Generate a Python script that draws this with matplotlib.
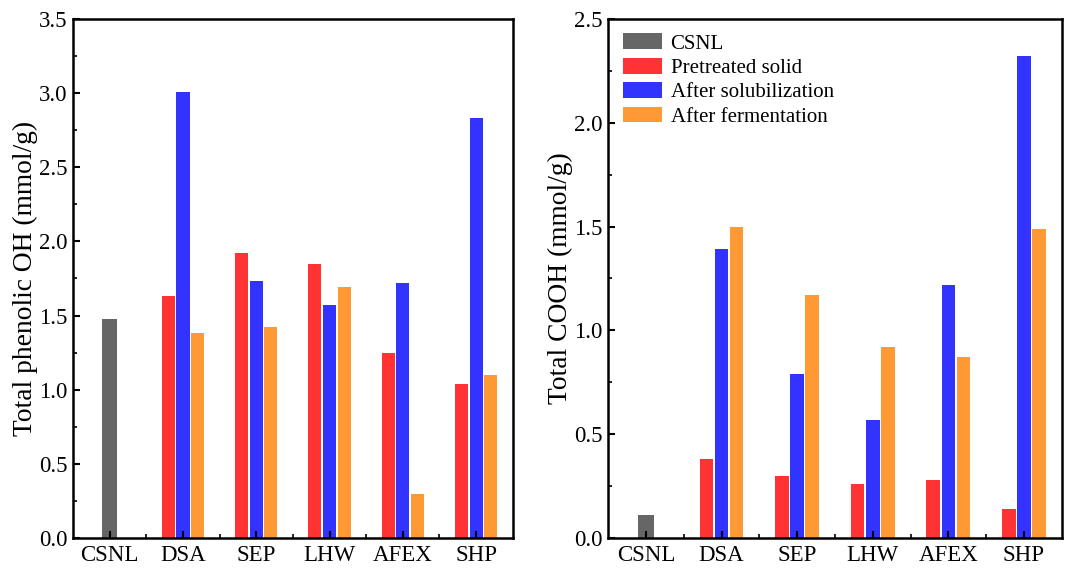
import numpy as np
import matplotlib.pyplot as plt
from matplotlib.ticker import MultipleLocator, FixedLocator

plt.rcParams['font.family'] = ['Liberation Serif', 'DejaVu Serif']

groups = ['CSNL', 'DSA', 'SEP', 'LHW', 'AFEX', 'SHP']
series = ['Pretreated solid', 'After solubilization', 'After fermentation']
colors = ['#FF3333', '#3333FF', '#FF9933']
gray = '#666666'

# raw lignin (CSNL) only has a single value
csnl_oh = 1.48
csnl_cooh = 0.11

# DSA, SEP, LHW, AFEX, SHP
oh_pretreated = [1.63, 1.92, 1.85, 1.25, 1.04]
oh_solubilized = [3.01, 1.73, 1.57, 1.72, 2.83]
oh_fermented = [1.38, 1.42, 1.69, 0.30, 1.10]

cooh_pretreated = [0.38, 0.30, 0.26, 0.28, 0.14]
cooh_solubilized = [1.39, 0.79, 0.57, 1.22, 2.32]
cooh_fermented = [1.50, 1.17, 0.92, 0.87, 1.49]

fig = plt.figure(figsize=(10.65, 5.7), dpi=100)
ax1 = fig.add_axes([0.0685, 0.056, 0.413, 0.911])
ax2 = fig.add_axes([0.571, 0.056, 0.426, 0.911])

w = 0.18
off = 0.2
x = np.arange(1, len(groups))


def draw(ax, csnl, vals, ymax, ylabel):
    ax.bar(0, csnl, 0.21, color=gray, label='CSNL')
    for i, (v, c, s) in enumerate(zip(vals, colors, series)):
        ax.bar(x + (i - 1) * off, v, w, color=c, label=s)
    ax.set_xlim(-0.5, len(groups) - 0.5)
    ax.set_ylim(0, ymax)
    ax.set_xticks(range(len(groups)))
    ax.set_xticklabels(groups)
    ax.xaxis.set_minor_locator(FixedLocator(np.arange(0.5, len(groups) - 0.5, 1)))
    ax.yaxis.set_major_locator(MultipleLocator(0.5))
    ax.yaxis.set_minor_locator(MultipleLocator(0.25))
    ax.yaxis.set_major_formatter(plt.FormatStrFormatter('%.1f'))
    ax.tick_params(direction='in', which='major', length=5, width=1.5, labelsize=16.5)
    ax.tick_params(direction='in', which='minor', length=3, width=1.2)
    ax.tick_params(axis='x', pad=5)
    ax.tick_params(axis='y', pad=4)
    for sp in ax.spines.values():
        sp.set_linewidth(1.8)
    ax.set_ylabel(ylabel, fontsize=19.8, labelpad=1)


draw(ax1, csnl_oh, [oh_pretreated, oh_solubilized, oh_fermented], 3.5,
     'Total phenolic OH (mmol/g)')
draw(ax2, csnl_cooh, [cooh_pretreated, cooh_solubilized, cooh_fermented], 2.5,
     'Total COOH (mmol/g)')

ax2.legend(loc='upper left', frameon=False, fontsize=15, handlelength=1.9,
           handleheight=0.8, handletextpad=0.4, labelspacing=0.2,
           borderaxespad=0.3, bbox_to_anchor=(0.0, 1.0))

fig.savefig('out.png', dpi=100)
